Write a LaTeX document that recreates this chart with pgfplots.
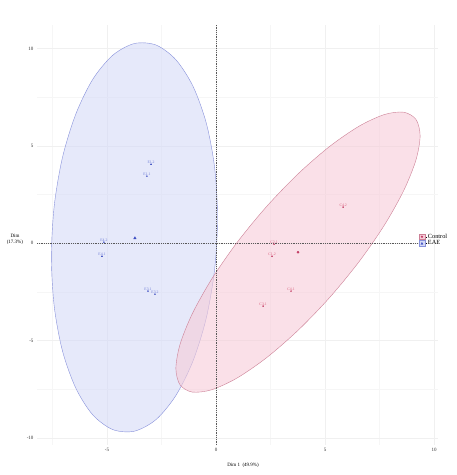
\documentclass[border=0pt]{standalone}
\usepackage{pgfplots}
\pgfplotsset{compat=1.18}
\usepackage{fontspec}
\setmainfont{Liberation Serif}
\definecolor{redpt}{HTML}{C23A62}
\definecolor{redlab}{HTML}{D9607F}
\definecolor{redfill}{HTML}{F6CCD8}
\definecolor{redline}{HTML}{CC8096}
\definecolor{bluept}{HTML}{3E4FC2}
\definecolor{bluelab}{HTML}{6F7DD6}
\definecolor{bluefill}{HTML}{D5DAF7}
\definecolor{blueline}{HTML}{8791DA}
\begin{document}
\begin{tikzpicture}
\path[use as bounding box] (-37pt,-30pt) rectangle (420pt,445pt);
\begin{axis}[
  scale only axis, width=401pt, height=420pt,
  xmin=-8.21, xmax=10.18, ymin=-10.36, ymax=11.2,
  axis line style={draw=none}, tick style={draw=none},
  xtick={-5,0,5,10}, ytick={-10,-5,0,5,10},
  minor xtick={-7.5,-2.5,2.5,7.5}, minor ytick={-7.5,-2.5,2.5,7.5},
  grid=both,
  major grid style={draw=gray!12, line width=0.5pt},
  minor grid style={draw=gray!7, line width=0.4pt},
  /pgf/number format/assume math mode=true,
  ticklabel style={font=\fontsize{5}{6}\selectfont, text=black!80},
  clip=false,
  legend style={at={(0.952,0.488)}, anchor=west, draw=none, fill=none,
    font=\fontsize{6.3}{7}\selectfont, row sep=-1pt, inner sep=0pt,
    nodes={inner sep=1pt}},
  legend cell align=left,
]
% ellipses
\addplot[draw=blueline, line width=0.4pt, fill=bluefill, fill opacity=0.6, smooth cycle, forget plot] coordinates {
(0.07,1.3) (-0.06,3.843) (-0.44,6.141) (-1.05,8.042) (-1.84,9.417) (-2.75,10.171)
(-3.74,10.25) (-4.73,9.653) (-5.65,8.417) (-6.43,6.628) (-7.04,4.409) (-7.42,1.911)
(-7.55,-0.7) (-7.42,-3.243) (-7.04,-5.541) (-6.43,-7.442) (-5.65,-8.817) (-4.73,-9.571)
(-3.74,-9.65) (-2.75,-9.053) (-1.84,-7.817) (-1.05,-6.028) (-0.44,-3.809) (-0.06,-1.311)};
\addplot[draw=redline, line width=0.4pt, fill=redfill, fill opacity=0.6, smooth cycle, forget plot] coordinates {
(9.36,5.516) (9.17,6.353) (8.61,6.723) (7.72,6.604) (6.56,6.005) (5.21,4.966)
(3.76,3.555) (2.31,1.870) (0.96,0.029) (-0.20,-1.846) (-1.09,-3.627) (-1.65,-5.193)
(-1.84,-6.436) (-1.65,-7.273) (-1.09,-7.643) (-0.20,-7.524) (0.96,-6.925) (2.31,-5.886)
(3.76,-4.475) (5.21,-2.790) (6.56,-0.949) (7.72,0.926) (8.61,2.707) (9.17,4.273)};
% reference lines
\addplot[black!65, dash pattern=on 0.9pt off 0.9pt, line width=0.5pt, forget plot] coordinates {(0,-10.36) (0,11.2)};
\addplot[black!65, dash pattern=on 0.9pt off 0.9pt, line width=0.5pt, forget plot] coordinates {(-8.21,0) (9.3,0)};
% individuals
\addplot[only marks, mark=*, mark size=0.55pt, color=redpt,
  point meta=explicit symbolic, nodes near coords,
  nodes near coords style={font=\fontsize{3.8}{4.5}\selectfont, text=redlab, inner sep=0.3pt, anchor=south},
  forget plot] table[meta=lab] {
x y lab
5.83 1.85 C4.2
2.66 -0.05 C2.1
2.57 -0.67 C1.2
3.44 -2.46 C4.1
2.16 -3.23 C3.1
};
\addplot[only marks, mark=triangle*, mark size=0.65pt, color=bluept,
  point meta=explicit symbolic, nodes near coords,
  nodes near coords style={font=\fontsize{3.8}{4.5}\selectfont, text=bluelab, inner sep=0.3pt, anchor=south},
  forget plot] table[meta=lab] {
x y lab
-2.98 4.05 E1.2
-3.17 3.44 E1.1
-5.14 0.05 E4.2
-5.23 -0.67 E4.1
-3.12 -2.46 E3.1
-2.80 -2.62 E3.2
};
% centroids
\addplot[only marks, mark=*, mark size=1.1pt, color=redpt, forget plot] coordinates {(3.76,-0.46)};
\addplot[only marks, mark=triangle*, mark size=1.4pt, color=bluept, forget plot] coordinates {(-3.72,0.26)};
% legend
\addlegendimage{legend image code/.code={
  \path (0pt,0pt) -- (7.6pt,0pt);
  \draw[fill=redfill, draw=redline, line width=0.4pt] (0pt,-2.8pt) rectangle (5.6pt,2.8pt);
  \fill[redpt] (2.8pt,0pt) circle (0.9pt);}}
\addlegendentry{Control}
\addlegendimage{legend image code/.code={
  \path (0pt,0pt) -- (7.6pt,0pt);
  \draw[fill=bluefill, draw=blueline, line width=0.4pt] (0pt,-2.8pt) rectangle (5.6pt,2.8pt);
  \fill[bluept] (1.8pt,-0.8pt) -- (3.8pt,-0.8pt) -- (2.8pt,1pt) -- cycle;}}
\addlegendentry{EAE}
% axis titles
\node[font=\fontsize{5}{5.5}\selectfont, align=center] at (rel axis cs:-0.055,0.49) {Dim\\(17.3\%)};
\node[font=\fontsize{5}{6}\selectfont] at (rel axis cs:0.514,-0.048) {Dim 1\ \ (49.9\%)};
\end{axis}
\end{tikzpicture}
\end{document}
